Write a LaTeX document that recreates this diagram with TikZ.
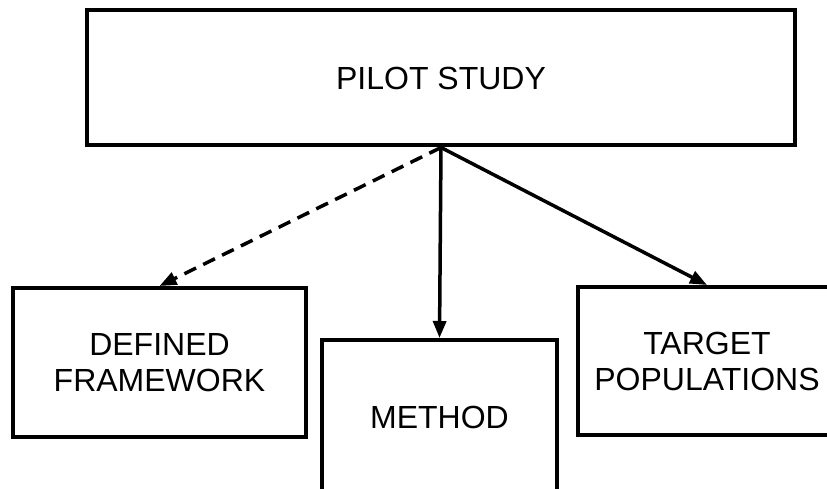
\documentclass[tikz,border=0pt]{standalone}
\usepackage{fontspec}
\setmainfont{Liberation Sans}
\usetikzlibrary{arrows.meta}
\begin{document}
\begin{tikzpicture}[x=1pt,y=-1pt,
  box/.style={draw=black, line width=4pt, inner sep=0pt, align=center,
    font=\fontsize{32}{36}\selectfont},
  link/.style={line width=3.5pt, -{Triangle[length=17pt,width=13pt]}},
  dashlink/.style={link, dash pattern=on 13pt off 8pt}]
  \useasboundingbox (0,0) rectangle (827,489);
  \fill[white] (0,0) rectangle (827,489);
  \clip (0,0) rectangle (827,489);

  % boxes
  \node[box, minimum width=708pt, minimum height=135pt] (pilot) at (441,78) {PILOT STUDY};
  \node[box, minimum width=293pt, minimum height=149pt] (frame) at (159.5,362.5) {DEFINED\\FRAMEWORK};
  \node[box, minimum width=235pt, minimum height=154pt] (method) at (439.5,417) {METHOD};
  \node[box, minimum width=258pt, minimum height=148pt] (target) at (707,361) {TARGET\\POPULATIONS};

  % connectors
  \draw[dashlink] (pilot.south) -- (frame.north);
  \draw[link] (pilot.south) -- (method.north);
  \draw[link] (pilot.south) -- (target.north);
\end{tikzpicture}
\end{document}
